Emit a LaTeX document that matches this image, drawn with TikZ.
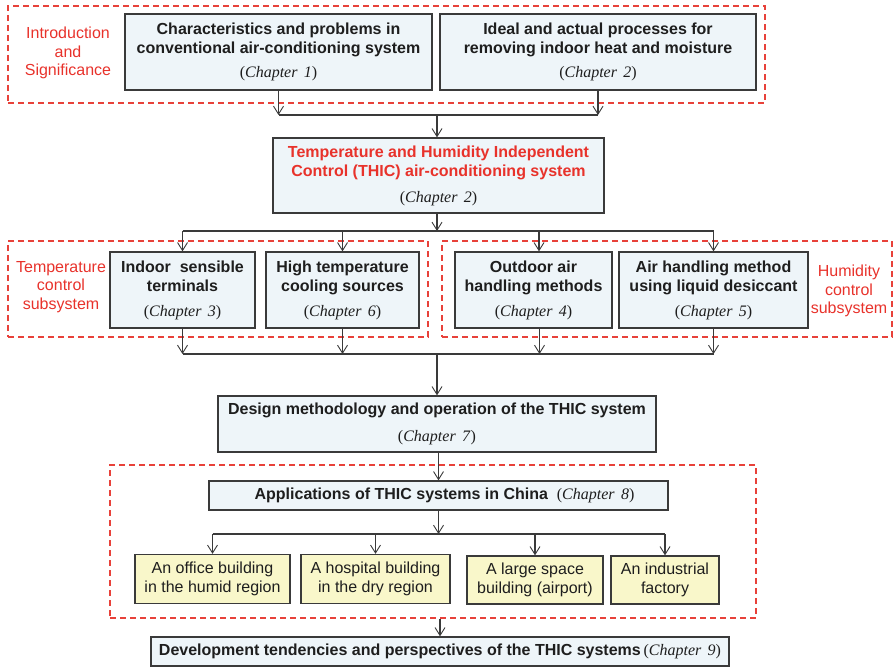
\documentclass[tikz,border=0pt]{standalone}
\usepackage{fontspec}
\setmainfont{Liberation Serif}
\setsansfont{Liberation Sans}
\usetikzlibrary{arrows.meta}
\definecolor{bluefill}{HTML}{EEF5F9}
\definecolor{yelfill}{HTML}{F9F7CA}
\definecolor{boxline}{HTML}{3A3A3A}
\definecolor{redline}{HTML}{E8413A}
\definecolor{redtext}{HTML}{E8322B}
\definecolor{textdark}{HTML}{1E1E1E}
\newcommand\chap[1]{{\rmfamily\mdseries\fontsize{16}{19}\selectfont(\textit{Chapter\hspace{0.4em}#1})}}
\tikzset{
  bluebox/.style={draw=boxline, line width=1.3pt, fill=bluefill, inner sep=0pt, align=center,
    text=textdark, font=\sffamily\bfseries\fontsize{16}{19}\selectfont},
  yelbox/.style={draw=boxline, line width=1.3pt, fill=yelfill, inner sep=0pt, align=center,
    text=textdark, font=\sffamily\fontsize{16}{19.5}\selectfont},
  dashbox/.style={draw=redline, line width=1.2pt, dash pattern=on 6pt off 4pt, inner sep=0pt},
  sidelabel/.style={text=redtext, align=center, inner sep=0pt, font=\sffamily\fontsize{16}{18.5}\selectfont},
  conn/.style={draw=boxline, line width=1.1pt},
  arr/.style={conn, -{Straight Barb[length=8pt,width=10pt,line width=0.9pt]}},
}
\begin{document}
\begin{tikzpicture}[x=1pt,y=-1pt]
\useasboundingbox (0,0) rectangle (893,668);
% dashed group boxes
\node[dashbox, minimum width=757pt, minimum height=97pt] (db1) at (386.5,54.5) {};
\node[dashbox, minimum width=420pt, minimum height=96pt] (db2) at (218,289) {};
\node[dashbox, minimum width=450pt, minimum height=96pt] (db3) at (667,289) {};
\node[dashbox, minimum width=646pt, minimum height=153pt] (db4) at (433,541.5) {};
% side labels
\node[sidelabel] (lintro) at (68,53) {Introduction\\and\\Significance};
\node[sidelabel] (ltemp) at (61,287) {Temperature\\control\\subsystem};
\node[sidelabel] (lhum) at (849,291) {Humidity\\control\\subsystem};
% boxes
\node[bluebox, minimum width=307pt, minimum height=76pt] (c1) at (278.5,52)
  {Characteristics and problems in\\conventional air-conditioning system\\[5pt]\chap{1}};
\node[bluebox, minimum width=316pt, minimum height=76pt] (c2) at (598,52)
  {Ideal and actual processes for\\removing indoor heat and moisture\\[5pt]\chap{2}};
\node[bluebox, minimum width=331pt, minimum height=75pt] (thic) at (438.5,175.5)
  {\textcolor{redtext}{Temperature and Humidity Independent}\\\textcolor{redtext}{Control (THIC) air-conditioning system}\\[7pt]\chap{2}};
\node[bluebox, minimum width=145pt, minimum height=76pt] (ind) at (182.5,290)
  {Indoor\ \ sensible\\terminals\\[6pt]\chap{3}};
\node[bluebox, minimum width=153pt, minimum height=76pt] (hts) at (342.5,290)
  {High temperature\\cooling sources\\[6pt]\chap{6}};
\node[bluebox, minimum width=157pt, minimum height=76pt] (oda) at (533.5,290)
  {Outdoor air\\handling methods\\[6pt]\chap{4}};
\node[bluebox, minimum width=189pt, minimum height=76pt] (ahl) at (713.5,290)
  {Air handling method\\using liquid desiccant\\[6pt]\chap{5}};
\node[bluebox, minimum width=438pt, minimum height=56pt] (des) at (437,424)
  {Design methodology and operation of the THIC system\\[8pt]\chap{7}};
\node[bluebox, minimum width=459pt, minimum height=29pt] (app) at (438.5,495.5)
  {\hspace*{12pt}Applications of THIC systems in China\ \ \chap{8}};
\node[yelbox, minimum width=155pt, minimum height=49pt] (off) at (212.5,579)
  {An office building\\in the humid region};
\node[yelbox, minimum width=149pt, minimum height=49pt] (hos) at (375.5,579)
  {A hospital building\\in the dry region};
\node[yelbox, minimum width=136pt, minimum height=48pt] (lar) at (535,580)
  {A large space\\building (airport)};
\node[yelbox, minimum width=108pt, minimum height=48pt] (fac) at (665,580)
  {An industrial\\factory};
\node[bluebox, minimum width=578pt, minimum height=29pt] (dev) at (440,651.5)
  {Development tendencies and perspectives of the THIC systems\,\chap{9}};
% bus coordinates
\coordinate (j1) at (437,115);
\coordinate (j2) at (437,231);
\coordinate (j3) at (437,354);
\coordinate (j4) at (438.5,534);
% connectors: top
\draw[conn] (c1.south |- j1) -- (c2.south |- j1);
\draw[arr] (c1.south) -- (c1.south |- j1);
\draw[arr] (c2.south) -- (c2.south |- j1);
\draw[arr] (j1) -- (j1 |- thic.north);
% second bus
\draw[arr] (thic.south -| j2) -- (j2);
\draw[conn] (ind.north |- j2) -- (ahl.north |- j2);
\draw[arr] (ind.north |- j2) -- (ind.north);
\draw[arr] (hts.north |- j2) -- (hts.north);
\draw[arr] ([xshift=5.5pt]oda.north |- j2) -- ([xshift=5.5pt]oda.north);
\draw[arr] (ahl.north |- j2) -- (ahl.north);
% third bus
\draw[conn] (ind.south |- j3) -- (ahl.south |- j3);
\draw[arr] (ind.south) -- (ind.south |- j3);
\draw[arr] (hts.south) -- (hts.south |- j3);
\draw[arr] ([xshift=6pt]oda.south) -- ([xshift=6pt]oda.south |- j3);
\draw[arr] (ahl.south) -- (ahl.south |- j3);
\draw[arr] (j3) -- (j3 |- des.north);
% design to applications
\draw[arr] (des.south -| app.north) -- (app.north);
% applications bus
\draw[arr] (app.south) -- (j4);
\draw[conn] (off.north |- j4) -- (fac.north |- j4);
\draw[arr] (off.north |- j4) -- (off.north);
\draw[arr] (hos.north |- j4) -- (hos.north);
\draw[arr] (lar.north |- j4) -- (lar.north);
\draw[arr] (fac.north |- j4) -- (fac.north);
% to development
\draw[arr] (dev.north |- db4.south) -- (dev.north);
\end{tikzpicture}
\end{document}
